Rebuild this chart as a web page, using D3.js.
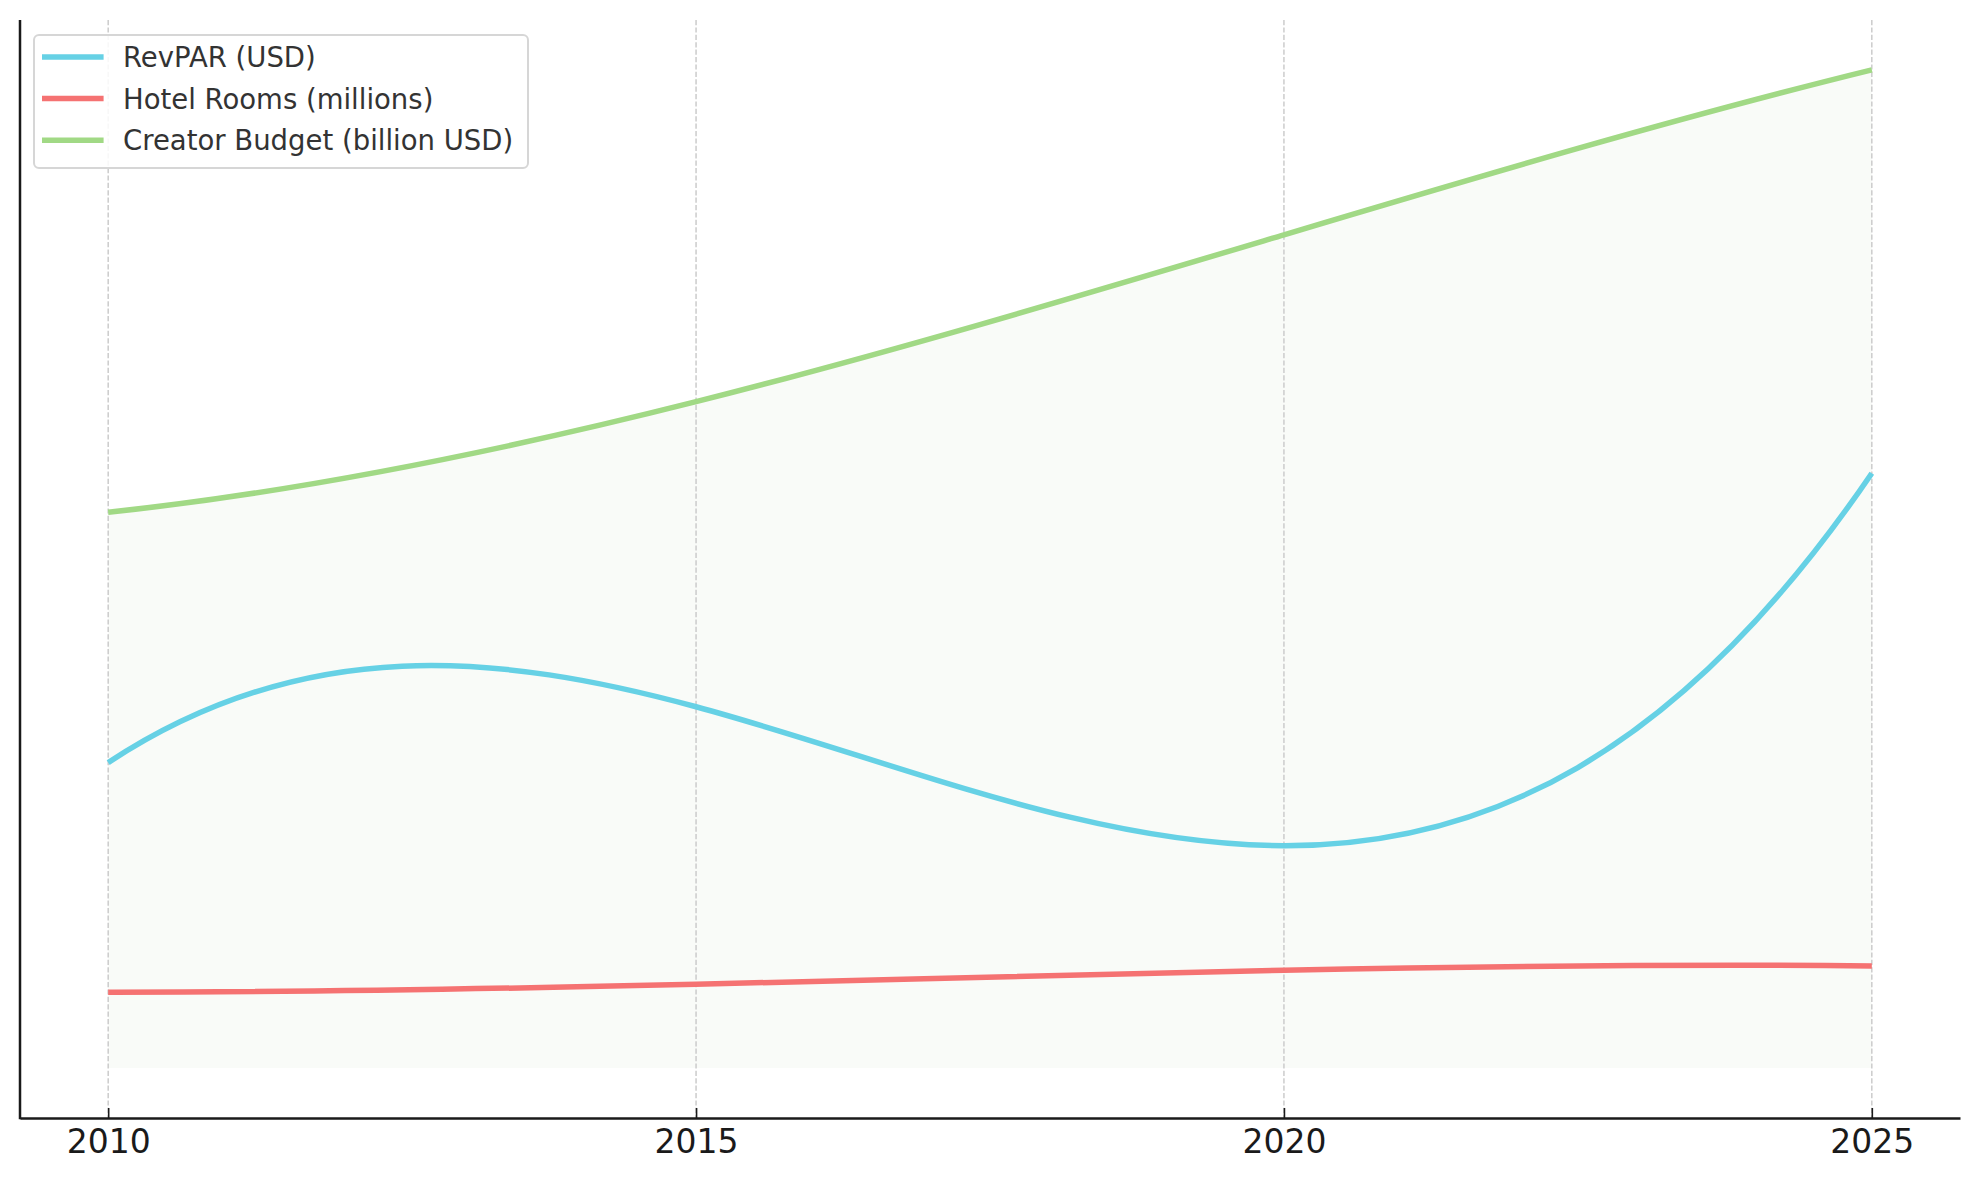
<!DOCTYPE html>
<html>
<head>
<meta charset="utf-8">
<script src="https://cdn.jsdelivr.net/npm/d3@7"></script>
<style>
  html, body { margin: 0; padding: 0; background: #ffffff; }
  svg { display: block; }
</style>
</head>
<body>
<svg id="chart" width="1979" height="1180"></svg>
<script>
// ---- Data ----
const years = [2010, 2015, 2020, 2025];
const revpar = [76.5, 90.5, 55.7, 149.0];          // RevPAR (USD)
const hotelRooms = [19.0, 21.0, 24.5, 25.6];        // Hotel Rooms (millions)
const creatorBudget = [139.2, 166.9, 208.7, 250.0]; // Creator Budget (billion USD)
const tickYears = [2010, 2015, 2020, 2025];
const seriesNames = ["RevPAR (USD)", "Hotel Rooms (millions)", "Creator Budget (billion USD)"];
const seriesColors = ["#66d1e5", "#f57272", "#a1d985"];

// ---- Layout ----
const W = 1979, H = 1180;
const plot = { left: 20, right: 1960, top: 20, bottom: 1118 };

const svg = d3.select("#chart");

const xPad = (d3.max(years) - d3.min(years)) * 0.05;
const x = d3.scaleLinear()
  .domain([d3.min(years) - xPad, d3.max(years) + xPad])
  .range([plot.left, plot.right]);

const yMax = d3.max(creatorBudget);
const yMin = 0;
const yPad = (yMax - yMin) * 0.05;
const y = d3.scaleLinear()
  .domain([yMin - yPad, yMax + yPad])
  .range([plot.bottom, plot.top]);

// Custom D3 curve: smooth interpolating polynomial (cubic spline through 4 points)
function polyDeriv(xs, ys, i) {
  const n = xs.length;
  let d = 0;
  for (let j = 0; j < n; j++) {
    let lp;
    if (j === i) {
      lp = 0;
      for (let k = 0; k < n; k++) if (k !== i) lp += 1 / (xs[i] - xs[k]);
    } else {
      let num = 1, den = 1;
      for (let k = 0; k < n; k++) {
        if (k !== j) den *= (xs[j] - xs[k]);
        if (k !== i && k !== j) num *= (xs[i] - xs[k]);
      }
      lp = num / den;
    }
    d += ys[j] * lp;
  }
  return d;
}
function curvePoly(context) {
  return {
    _context: context,
    areaStart() { this._line = 0; },
    areaEnd() { this._line = NaN; },
    lineStart() { this._xs = []; this._ys = []; },
    point(px, py) { this._xs.push(+px); this._ys.push(+py); },
    lineEnd() {
      const xs = this._xs, ys = this._ys, n = xs.length, c = this._context;
      if (n) {
        const flat = ys.every(v => v === ys[0]);
        const d = xs.map((_, i) => (n > 1 && !flat) ? polyDeriv(xs, ys, i) : 0);
        if (this._line) c.lineTo(xs[0], ys[0]); else c.moveTo(xs[0], ys[0]);
        for (let i = 1; i < n; i++) {
          const dx = xs[i] - xs[i - 1];
          c.bezierCurveTo(xs[i - 1] + dx / 3, ys[i - 1] + d[i - 1] * dx / 3,
                          xs[i] - dx / 3, ys[i] - d[i] * dx / 3,
                          xs[i], ys[i]);
        }
      }
      if (this._line || (this._line !== 0 && n === 1)) c.closePath();
      this._line = 1 - this._line;
    }
  };
}

// ---- Fill under top series ----
const fillData = years.map((yr, i) => ({ year: yr, v: creatorBudget[i] }));
svg.append("path")
  .datum(fillData)
  .attr("fill", "#f9fbf8")
  .attr("d", d3.area().x(d => x(d.year)).y0(y(0)).y1(d => y(d.v)).curve(curvePoly));

// ---- Gridlines (vertical dashed) ----
svg.append("g")
  .selectAll("line")
  .data(tickYears)
  .join("line")
  .attr("x1", d => x(d)).attr("x2", d => x(d))
  .attr("y1", plot.top).attr("y2", plot.bottom)
  .attr("stroke", "#c8c8c8")
  .attr("stroke-width", 1.4)
  .attr("stroke-dasharray", "5.2,2.2");

// ---- Lines ----
const seriesData = [revpar, hotelRooms, creatorBudget];
const line = d3.line().x(d => x(d.year)).y(d => y(d.v)).curve(curvePoly);
seriesData.forEach((vals, si) => {
  svg.append("path")
    .datum(years.map((yr, i) => ({ year: yr, v: vals[i] })))
    .attr("fill", "none")
    .attr("stroke", seriesColors[si])
    .attr("stroke-width", 5.5)
    .attr("stroke-linecap", "butt")
    .attr("d", line);
});

// ---- Axes ----
const xAxis = svg.append("g")
  .attr("transform", `translate(0,${plot.bottom})`)
  .call(d3.axisBottom(x).tickValues(tickYears).tickFormat(d3.format("d"))
    .tickSizeInner(-10).tickSizeOuter(0).tickPadding(11.5));
xAxis.select(".domain").attr("stroke", "#1a1a1a").attr("stroke-width", 2.5);
xAxis.selectAll(".tick line").attr("stroke", "#1a1a1a").attr("stroke-width", 1.6);
xAxis.selectAll(".tick text")
  .attr("fill", "#1a1a1a")
  .style("font-family", "'DejaVu Sans', sans-serif")
  .style("font-size", "33px");

svg.append("line")
  .attr("x1", plot.left).attr("x2", plot.left)
  .attr("y1", plot.top).attr("y2", plot.bottom + 1.25)
  .attr("stroke", "#1a1a1a").attr("stroke-width", 2.5);

// ---- Legend ----
const lg = svg.append("g").attr("transform", "translate(34,35)");
lg.append("rect")
  .attr("x", 0).attr("y", 0).attr("width", 494).attr("height", 133)
  .attr("rx", 5).attr("ry", 5)
  .attr("fill", "#ffffff").attr("fill-opacity", 0.85)
  .attr("stroke", "#d6d6d6").attr("stroke-width", 2);
seriesNames.forEach((name, i) => {
  const cy = 22 + i * 41.6;
  lg.append("line")
    .attr("x1", 8).attr("x2", 69.6).attr("y1", cy).attr("y2", cy)
    .attr("stroke", seriesColors[i]).attr("stroke-width", 5.5);
  lg.append("text")
    .attr("x", 89).attr("y", cy)
    .attr("dominant-baseline", "central")
    .attr("fill", "#333333")
    .style("font-family", "'DejaVu Sans', sans-serif")
    .style("font-size", "27.5px")
    .text(name);
});
</script>
</body>
</html>
